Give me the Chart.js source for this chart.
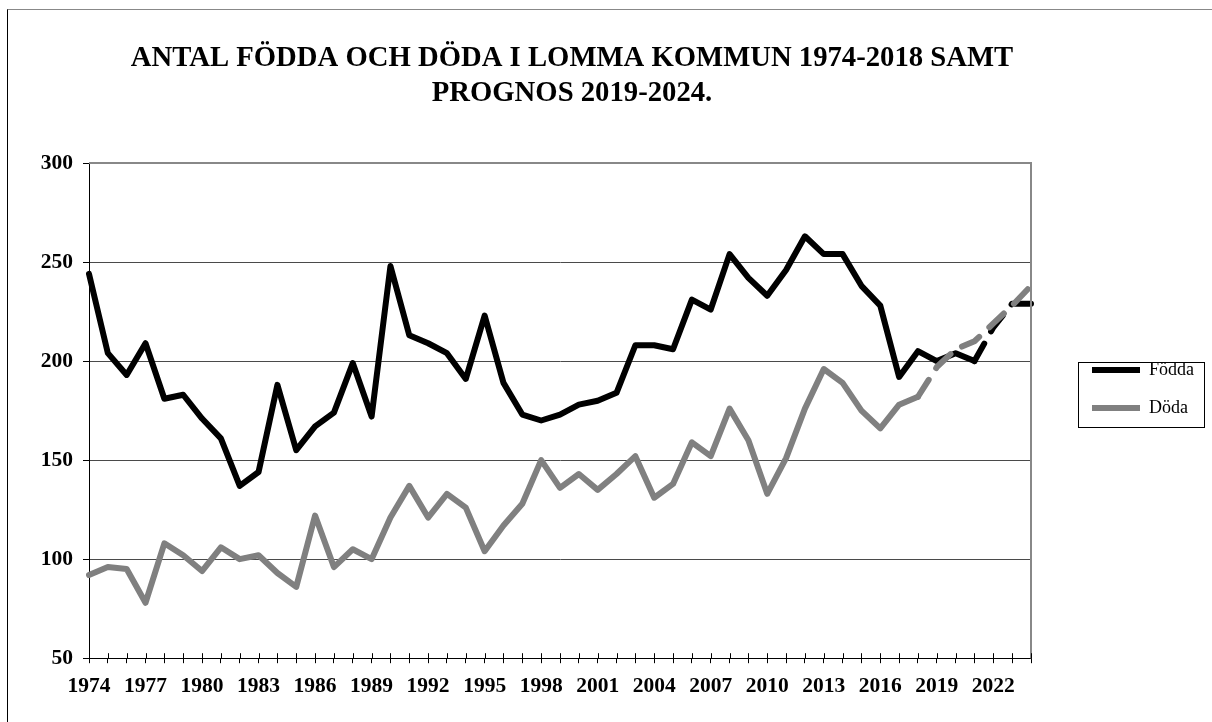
<!DOCTYPE html>
<html>
<head>
<meta charset="utf-8">
<script src="https://cdn.jsdelivr.net/npm/chart.js@4.4.1/dist/chart.umd.min.js"></script>
<style>
  html, body { margin: 0; padding: 0; background: #fff; overflow: hidden; }
  #wrap { position: relative; width: 1212px; height: 722px; }
  #frame { position: absolute; left: 7px; top: 9px; width: 1300px; height: 800px;
           border-left: 1px solid #000; border-top: 1px solid #888; }
  #chart { position: absolute; left: 0; top: 0; }
</style>
</head>
<body>
<div id="wrap">
  <div id="frame"></div>
  <canvas id="chart" width="1212" height="722"></canvas>
</div>
<script>
// data

const years = [
  "1974", "1975", "1976", "1977", "1978", "1979", "1980", "1981", "1982", "1983",
  "1984", "1985", "1986", "1987", "1988", "1989", "1990", "1991", "1992", "1993",
  "1994", "1995", "1996", "1997", "1998", "1999", "2000", "2001", "2002", "2003",
  "2004", "2005", "2006", "2007", "2008", "2009", "2010", "2011", "2012", "2013",
  "2014", "2015", "2016", "2017", "2018", "2019", "2020", "2021", "2022", "2023",
  "2024"
];

const fodda = [
  244, 204, 193, 209, 181, 183, 171, 161, 137, 144,
  188, 155, 167, 174, 199, 172, 248, 213, 209, 204,
  191, 223, 189, 173, 170, 173, 178, 180, 184, 208,
  208, 206, 231, 226, 254, 242, 233, 246, 263, 254,
  254, 238, 228, 192, 205, 200, 204, 200, 217, 229,
  229
];

const doda = [
  92, 96, 95, 78, 108, 102, 94, 106, 100, 102,
  93, 86, 122, 96, 105, 100, 121, 137, 121, 133,
  126, 104, 117, 128, 150, 136, 143, 135, 143, 152,
  131, 138, 159, 152, 176, 160, 133, 151, 176, 196,
  189, 175, 166, 178, 182, 197, 206, 210, 219, 228,
  238
];

const yTicks = [50, 100, 150, 200, 250, 300];

const titleLines = ["ANTAL FÖDDA OCH DÖDA I LOMMA KOMMUN 1974-2018 SAMT", "PROGNOS 2019-2024."];

// where the dashed (prognos) part starts, index into years
const foddaDashFrom = 47;
const dodaDashFrom = 44;

const serif = "'Liberation Serif', 'Times New Roman', serif";

// moves the title and legend to where the picture has them
const placeBoxes = {
  id: "placeBoxes",
  afterLayout(chart) {
    const t = chart.titleBlock;
    if (t) {
      t.left = 0;
      t.right = 1144;
      t.width = 1144;
    }
    const lg = chart.legend;
    if (lg) {
      lg.left = 1072;
      lg.right = 1212;
      lg.width = lg.right - lg.left;
      lg.top = 341;
      lg.bottom = lg.top + 110;
      lg.height = 110;
    }
  }
};

// frame of plot area, crossing x ticks, box round the legend
const extras = {
  id: "extras",
  afterDraw(chart) {
    const ctx = chart.ctx;
    const a = chart.chartArea;
    ctx.save();

    ctx.strokeStyle = "#888";
    ctx.lineWidth = 2;
    ctx.beginPath();
    ctx.moveTo(a.left, a.top);
    ctx.lineTo(a.right, a.top);
    ctx.lineTo(a.right, a.bottom);
    ctx.stroke();

    const xs = chart.scales.x;
    ctx.strokeStyle = "#000";
    ctx.lineWidth = 1;
    ctx.beginPath();
    xs.ticks.forEach((t, i) => {
      const px = Math.round(xs.getPixelForTick(i)) + 0.5;
      ctx.moveTo(px, a.bottom - 5);
      ctx.lineTo(px, a.bottom);
    });
    ctx.stroke();

    const lg = chart.legend;
    ctx.strokeStyle = "#000";
    ctx.lineWidth = 1;
    ctx.strokeRect(lg.left + 6.5, lg.top + 21.5, 126, 65);
    ctx.restore();
  }
};

const dashed = (from) => (c) => (c.p0DataIndex >= from ? [20, 14] : undefined);

new Chart(document.getElementById("chart"), {
  type: "line",
  data: {
    labels: years,
    datasets: [
      {
        label: "Födda",
        data: fodda,
        borderColor: "#000000",
        backgroundColor: "#000000",
        borderWidth: 6,
        borderCapStyle: "round",
        borderJoinStyle: "round",
        pointRadius: 0,
        tension: 0,
        order: 1,
        segment: { borderDash: dashed(foddaDashFrom) }
      },
      {
        label: "Döda",
        data: doda,
        borderColor: "#808080",
        backgroundColor: "#808080",
        borderWidth: 6,
        borderCapStyle: "round",
        borderJoinStyle: "round",
        pointRadius: 0,
        tension: 0,
        order: 0,
        segment: { borderDash: dashed(dodaDashFrom) }
      }
    ]
  },
  options: {
    responsive: false,
    animation: false,
    layout: { padding: { top: 0, left: 0, right: 49, bottom: 13 } },
    plugins: {
      tooltip: { enabled: false },
      title: {
        display: true,
        text: titleLines,
        color: "#000",
        font: { family: serif, size: 28.7, weight: "bold", lineHeight: "35px" },
        padding: { top: 41, bottom: 52 }
      },
      legend: {
        position: "right",
        align: "start",
        labels: {
          usePointStyle: true,
          pointStyle: "line",
          pointStyleWidth: 48,
          padding: 20,
          color: "#000",
          font: { family: serif, size: 18 },
          sort: (a, b) => a.datasetIndex - b.datasetIndex
        }
      }
    },
    scales: {
      x: {
        offset: false,
        grid: { drawOnChartArea: false, drawTicks: true, tickLength: 5, tickColor: "#000" },
        border: { color: "#000", width: 1 },
        ticks: {
          autoSkip: false,
          maxRotation: 0,
          minRotation: 0,
          padding: 10,
          color: "#000",
          font: { family: serif, size: 21.5, weight: "bold" },
          callback: (v, i) => (i % 3 === 0 ? years[i] : "")
        }
      },
      y: {
        min: 50,
        max: 300,
        afterFit: (s) => { s.width = 89; },
        afterBuildTicks: (s) => { s.ticks = yTicks.map((v) => ({ value: v })); },
        grid: {
          color: "#4a4a4a",
          lineWidth: 1,
          tickLength: 6,
          tickColor: "#000"
        },
        border: { color: "#000", width: 1 },
        ticks: {
          padding: 10,
          color: "#000",
          font: { family: serif, size: 21.5, weight: "bold" }
        }
      }
    }
  },
  plugins: [placeBoxes, extras]
});
</script>
</body>
</html>
